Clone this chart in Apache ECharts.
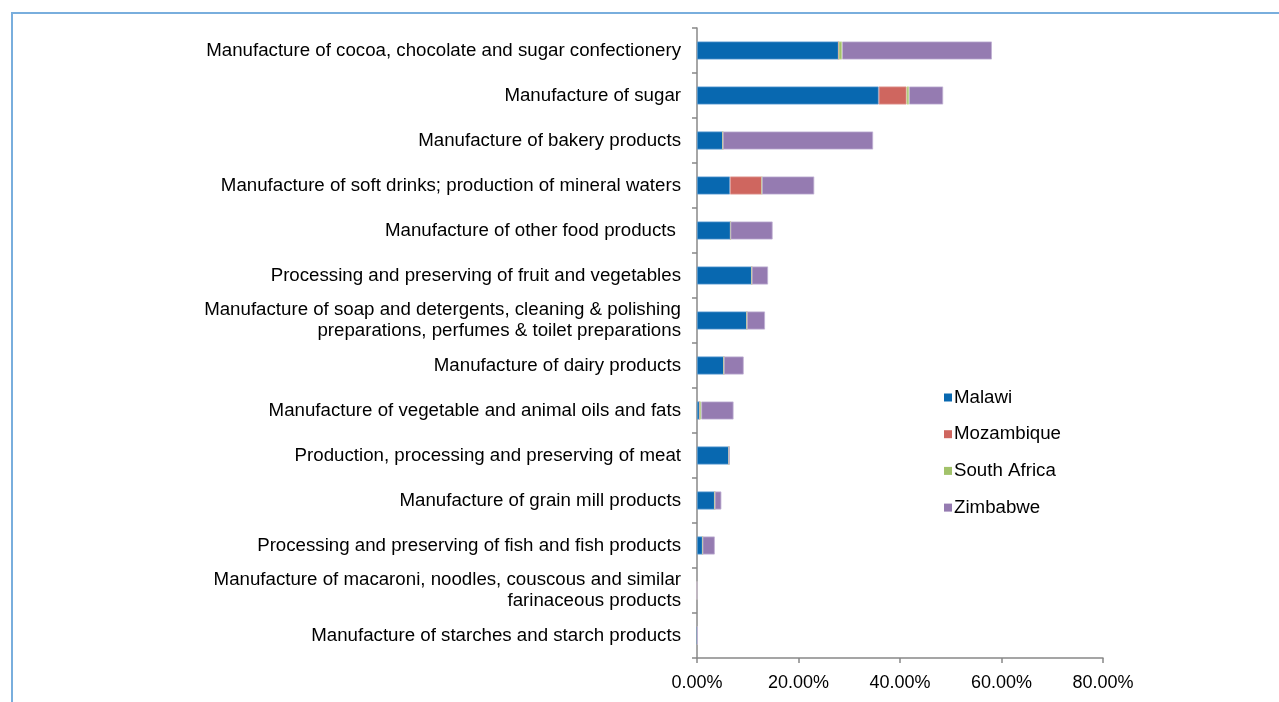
<!DOCTYPE html>
<html><head><meta charset="utf-8">
<script src="https://cdn.jsdelivr.net/npm/echarts@6/dist/echarts.min.js"></script>
<style>html,body{margin:0;padding:0;background:#fff}#c{width:1279px;height:702px}</style>
</head><body><div id="c"></div>
<script>
const categories = [
  "Manufacture of cocoa, chocolate and sugar confectionery",
  "Manufacture of sugar",
  "Manufacture of bakery products",
  "Manufacture of soft drinks; production of mineral waters",
  "Manufacture of other food products ",
  "Processing and preserving of fruit and vegetables",
  "Manufacture of soap and detergents, cleaning & polishing\npreparations, perfumes & toilet preparations",
  "Manufacture of dairy products",
  "Manufacture of vegetable and animal oils and fats",
  "Production, processing and preserving of meat",
  "Manufacture of grain mill products",
  "Processing and preserving of fish and fish products",
  "Manufacture of macaroni, noodles, couscous and similar\nfarinaceous products",
  "Manufacture of starches and starch products"
];
const malawi       = [27.9, 35.8, 5.1, 6.5, 6.6, 10.8, 9.85, 5.3, 0.5, 6.3, 3.5, 1.1, 0, 0.1];
const mozambique   = [0, 5.5, 0, 6.3, 0, 0, 0, 0, 0, 0, 0, 0, 0, 0];
const southAfrica  = [0.7, 0.5, 0, 0, 0, 0, 0, 0, 0.35, 0, 0, 0, 0, 0];
const zimbabwe     = [29.5, 6.7, 29.6, 10.3, 8.3, 3.2, 3.55, 3.9, 6.35, 0.1, 1.3, 2.4, 0, 0];
const seriesNames  = ["Malawi", "Mozambique", "South Africa", "Zimbabwe"];
const xTicks = [0, 20, 40, 60, 80];

const colors = ["#0868B0", "#CF665F", "#A2C26A", "#957BB1"];
const borders = ["#5A9BD0", "#E09A95", "#C6DCA0", "#BFB0D3"];
const seriesData = [malawi, mozambique, southAfrica, zimbabwe];

const chart = echarts.init(document.getElementById('c'));
chart.setOption({
  animation: false,
  textStyle: { fontFamily: "Liberation Sans, Arial, sans-serif" },
  graphic: [{
    type: 'rect', shape: { x: 12, y: 13, width: 1300, height: 720 },
    style: { fill: 'none', stroke: '#79AEDD', lineWidth: 2 }, silent: true, z: -1
  }],
  grid: { left: 697, right: 176, top: 28, bottom: 44, containLabel: false },
  legend: {
    data: seriesNames, orient: 'vertical', left: 939, top: 383,
    icon: 'rect', itemWidth: 8, itemHeight: 8, itemGap: 17.7,
    itemStyle: { borderWidth: 0 },
    textStyle: { fontSize: 18.7, color: '#000', padding: [5, 0, 0, -3], fontFamily: "Liberation Sans, Arial, sans-serif" }
  },
  xAxis: {
    type: 'value', min: xTicks[0], max: xTicks[xTicks.length - 1], interval: 20,
    axisLine: { show: true, lineStyle: { color: '#888', width: 1.5 } },
    axisTick: { show: true, length: 5, lineStyle: { color: '#888', width: 1.5 } },
    splitLine: { show: false },
    axisLabel: { formatter: v => v.toFixed(2) + '%', fontSize: 18, color: '#000', margin: 16 }
  },
  yAxis: {
    type: 'category', data: categories, inverse: true,
    axisLine: { show: true, lineStyle: { color: '#888', width: 1.5 } },
    axisTick: { show: true, length: 5, alignWithLabel: false, lineStyle: { color: '#888', width: 1.5 } },
    axisLabel: { fontSize: 18.7, color: '#000', margin: 16, lineHeight: 21, align: 'right', padding: [5, 0, 0, 0] }
  },
  series: seriesData.map((d, i) => ({
    name: seriesNames[i], type: 'bar', stack: 'total', data: d, barWidth: 18,
    itemStyle: { color: colors[i], borderColor: borders[i], borderWidth: 0.8 }
  }))
});
</script></body></html>
